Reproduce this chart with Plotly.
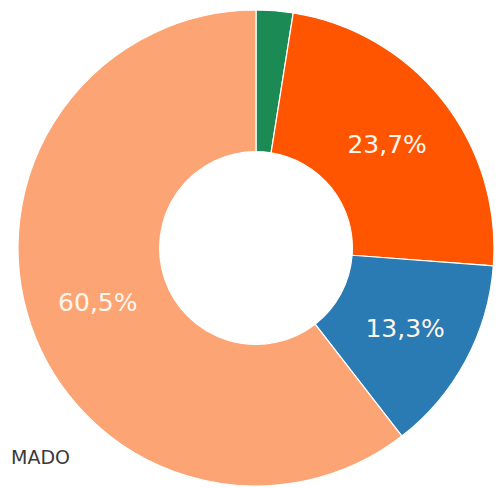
import plotly.graph_objects as go

categories = ["Verde", "Laranja", "Azul", "Salmão"]
values = [2.5, 23.7, 13.3, 60.5]
colors = ["#1b8a55", "#ff5500", "#2a7ab4", "#fca474"]
legend_text = "MADO"

W, H = 504, 488
# page body adds an 8px offset; compensate
off = 8
cx, cy, r = 256 - off, 248 - off, 238

fig = go.Figure(go.Pie(
    labels=categories,
    values=values,
    hole=0.405,
    sort=False,
    direction="clockwise",
    rotation=0,
    marker=dict(colors=colors, line=dict(color="white", width=1.2)),
    texttemplate=["", "%{percent:.1%}", "%{percent:.1%}", "%{percent:.1%}"],
    textposition="inside",
    insidetextorientation="horizontal",
    textfont=dict(family="DejaVu Sans", size=25, color="#fff6ee"),
    showlegend=False,
    hoverinfo="label+percent",
    domain=dict(x=[(cx - r) / W, (cx + r) / W],
                y=[(H - cy - r) / H, (H - cy + r) / H]),
))

fig.add_annotation(
    text=legend_text, xref="paper", yref="paper",
    x=2 / W, y=(H - (457 - off)) / H, xanchor="left", yanchor="middle",
    showarrow=False, borderpad=0,
    font=dict(family="DejaVu Sans", size=19, color="#3a3a3a"),
)

fig.update_layout(
    width=W, height=H,
    margin=dict(l=0, r=0, t=0, b=0),
    paper_bgcolor="white",
    plot_bgcolor="white",
    separators=",.",
)

fig.write_html("out.html")
